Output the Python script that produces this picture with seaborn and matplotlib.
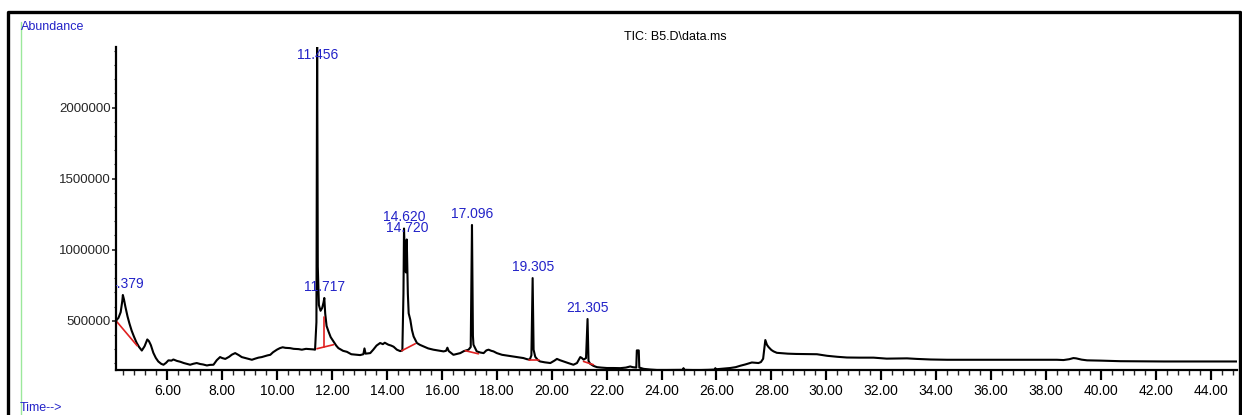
import matplotlib
matplotlib.use("Agg")
import matplotlib.pyplot as plt
import seaborn as sns
import numpy as np
import pandas as pd
from matplotlib.lines import Line2D
from matplotlib.ticker import FixedLocator, MultipleLocator, FuncFormatter

# ---------------- data ----------------
time_min = [
    4.13, 4.22, 4.30, 4.36, 4.38, 4.42, 4.47, 4.55, 4.62, 4.70, 4.78, 4.88, 4.97,
    5.07, 5.17, 5.27, 5.33, 5.40, 5.49, 5.58, 5.67, 5.78, 5.86, 5.95, 6.04, 6.15,
    6.22, 6.35, 6.47, 6.60, 6.70, 6.83, 6.95, 7.07, 7.20, 7.30, 7.44, 7.55, 7.68,
    7.80, 7.92, 8.00, 8.11, 8.25, 8.35, 8.47, 8.60, 8.71, 8.85, 9.00, 9.08, 9.20,
    9.32, 9.44, 9.55, 9.65, 9.75, 9.85, 9.99, 10.10, 10.20, 10.30, 10.47, 10.60,
    10.78, 10.90, 11.05, 11.20, 11.32, 11.38, 11.43, 11.456, 11.48, 11.52, 11.58,
    11.64, 11.69, 11.717, 11.75, 11.80, 11.87, 11.95, 12.05, 12.15, 12.23, 12.40,
    12.54, 12.70, 12.90, 13.02, 13.14, 13.18, 13.22, 13.39, 13.50, 13.62, 13.75,
    13.85, 13.92, 14.05, 14.15, 14.24, 14.36, 14.48, 14.56, 14.60, 14.620, 14.66,
    14.69, 14.720, 14.76, 14.79, 14.85, 14.91, 14.97, 15.09, 15.20, 15.33, 15.50,
    15.69, 15.85, 16.06, 16.15, 16.20, 16.25, 16.42, 16.55, 16.67, 16.80, 16.97,
    17.05, 17.096, 17.13, 17.15, 17.27, 17.40, 17.52, 17.62, 17.70, 17.80, 17.88,
    18.00, 18.19, 18.40, 18.61, 18.80, 18.97, 19.10, 19.20, 19.26, 19.305, 19.34,
    19.40, 19.50, 19.58, 19.75, 19.95, 20.10, 20.19, 20.30, 20.43, 20.60, 20.79,
    20.92, 21.04, 21.10, 21.16, 21.25, 21.305, 21.34, 21.40, 21.52, 21.65, 21.80,
    22.01, 22.25, 22.50, 22.70, 22.86, 22.95, 23.08, 23.10, 23.17, 23.19, 23.35,
    23.60, 23.83, 24.20, 24.60, 24.78, 24.80, 24.82, 25.29, 25.70, 25.94, 25.96,
    25.98, 26.20, 26.50, 26.70, 26.87, 27.05, 27.23, 27.29, 27.40, 27.53, 27.62,
    27.70, 27.78, 27.84, 27.90, 28.00, 28.08, 28.20, 28.33, 28.60, 28.90, 29.30,
    29.66, 29.85, 30.03, 30.40, 30.75, 31.20, 31.72, 32.20, 32.60, 32.94, 33.30,
    33.80, 34.40, 35.00, 35.85, 36.80, 37.70, 38.40, 38.64, 38.85, 39.00, 39.10,
    39.30, 39.50, 40.00, 40.71, 41.50, 42.30, 43.14, 44.00, 44.96,
]
abundance = [
    500000, 520000, 560000, 640000, 681000, 650000, 600000, 530000, 480000, 430000,
    390000, 345000, 315000, 290000, 320000, 368000, 356000, 328000, 274000, 238000,
    213000, 196000, 190000, 203000, 221000, 219000, 227000, 217000, 211000, 202000,
    197000, 190000, 197000, 202000, 195000, 192000, 185000, 189000, 190000, 222000,
    244000, 237000, 231000, 246000, 261000, 272000, 258000, 244000, 237000, 229000,
    225000, 233000, 240000, 244000, 250000, 256000, 260000, 278000, 296000, 307000,
    313000, 309000, 307000, 302000, 300000, 296000, 302000, 300000, 298000, 296000,
    490000, 2500000, 880000, 610000, 570000, 590000, 630000, 660000, 550000, 463000,
    424000, 384000, 354000, 325000, 307000, 288000, 281000, 264000, 260000, 258000,
    264000, 305000, 268000, 272000, 296000, 325000, 343000, 335000, 345000, 331000,
    325000, 317000, 296000, 286000, 291000, 690000, 1149000, 890000, 840000, 1072000,
    690000, 552000, 506000, 434000, 389000, 343000, 330000, 319000, 305000, 296000,
    291000, 284000, 288000, 310000, 286000, 260000, 266000, 272000, 286000, 296000,
    315000, 1174000, 394000, 331000, 284000, 276000, 272000, 291000, 296000, 288000,
    284000, 272000, 260000, 254000, 248000, 242000, 237000, 229000, 226000, 256000,
    800000, 296000, 246000, 222000, 213000, 207000, 202000, 219000, 231000, 222000,
    213000, 202000, 190000, 202000, 244000, 237000, 226000, 237000, 512000, 217000,
    197000, 182000, 173000, 170000, 167000, 167000, 166000, 170000, 178000, 173000,
    170000, 291000, 291000, 170000, 161000, 156000, 153000, 153000, 154000, 154000,
    166000, 154000, 152000, 154000, 156000, 166000, 158000, 162000, 167000, 173000,
    183000, 192000, 202000, 206000, 204000, 202000, 209000, 232000, 364000, 330000,
    314000, 294000, 284000, 274000, 272000, 268000, 266000, 265000, 264000, 258000,
    253000, 246000, 241000, 240000, 240000, 233000, 234000, 235000, 231000, 227000,
    225000, 225000, 225000, 225000, 225000, 225000, 223000, 229000, 237000, 235000,
    226000, 221000, 219000, 215000, 214000, 213000, 213000, 213000, 213000,
]

# integrated peaks (label = retention time)
peak_times = [4.379, 11.456, 11.717, 14.620, 14.720, 17.096, 19.305, 21.305]
peak_labels = ["4.379", "11.456", "11.717", "14.620", "14.720", "17.096", "19.305", "21.305"]
peak_heights = [681000, 2500000, 660000, 1149000, 1072000, 1174000, 800000, 512000]

# integration baselines (red)
base_t0 = [4.13, 11.45, 14.54, 16.85, 19.16, 21.16]
base_v0 = [500000, 303000, 289000, 289000, 221000, 213000]
base_t1 = [4.90, 12.05, 15.03, 17.33, 19.52, 21.52]
base_v1 = [324000, 331000, 338000, 267000, 221000, 190000]
drop_t = [11.69]
drop_v0 = [314000]
drop_v1 = [528000]

x_ticks = [6, 8, 10, 12, 14, 16, 18, 20, 22, 24, 26, 28, 30, 32, 34, 36, 38, 40, 42, 44]
y_ticks = [500000, 1000000, 1500000, 2000000]

# ---------------- figure ----------------
sns.set_style("white")
FONT = ["Liberation Sans Narrow", "Liberation Sans", "DejaVu Sans"]
plt.rcParams["font.family"] = FONT

W, H = 1242, 415
fig = plt.figure(figsize=(W / 100, H / 100), dpi=100)
ax = fig.add_axes([116 / W, (H - 370) / H, (1237 - 116) / W, (370 - 47) / H])

df = pd.DataFrame({"t": time_min, "a": abundance})
sns.lineplot(data=df, x="t", y="a", ax=ax, color="black", lw=1.5,
             estimator=None, sort=False)

for t0, v0, t1, v1 in zip(base_t0, base_v0, base_t1, base_v1):
    sns.lineplot(x=[t0, t1], y=[v0, v1], ax=ax, color="#e02020", lw=1.2,
                 estimator=None, sort=False)
for t, v0, v1 in zip(drop_t, drop_v0, drop_v1):
    sns.lineplot(x=[t, t + 1e-6], y=[v0, v1], ax=ax, color="#e02020", lw=1.2,
                 estimator=None, sort=False)

ax.set_xlim(4.13, 44.96)
ax.set_ylim(153000, 2427000)

label_blue = "#2323c8"
top_cap = 2290000
for t, lab, h in zip(peak_times, peak_labels, peak_heights):
    dx = 3 if t < 5 else 0  # first label sits against the axis edge (clipped)
    ax.annotate(lab, xy=(t, min(h, top_cap)), xytext=(dx, 3), textcoords="offset points",
                ha="center", va="bottom", color=label_blue, fontsize=10,
                clip_on=True)

ax.set_xlabel("")
ax.set_ylabel("")
for s in ["top", "right"]:
    ax.spines[s].set_visible(False)
for s in ["left", "bottom"]:
    ax.spines[s].set_linewidth(1.6)
    ax.spines[s].set_color("black")

ax.xaxis.set_major_locator(FixedLocator(x_ticks))
ax.xaxis.set_major_formatter(FuncFormatter(lambda v, p: f"{v:.2f}"))
ax.xaxis.set_minor_locator(MultipleLocator(0.4))
ax.yaxis.set_major_locator(FixedLocator(y_ticks))
ax.yaxis.set_major_formatter(FuncFormatter(lambda v, p: f"{int(v)}"))
ax.yaxis.set_minor_locator(MultipleLocator(100000))

ax.tick_params(axis="x", which="major", direction="out", length=7, width=1.6,
               pad=3, labelsize=10, colors="black", bottom=True)
ax.tick_params(axis="x", which="minor", direction="out", length=3.5, width=1.0,
               bottom=True)
ax.tick_params(axis="y", which="major", direction="out", length=3, width=1.2,
               pad=1, labelsize=9.5, left=True)
ax.tick_params(axis="y", which="minor", direction="out", length=1.5, width=0.8,
               left=True)

# chart furniture
fig.add_artist(Line2D([8 / W, 8 / W, 1240 / W, 1240 / W],
                      [0, 1 - 12 / H, 1 - 12 / H, 0],
                      transform=fig.transFigure, color="black", lw=2.4))
fig.add_artist(Line2D([21 / W, 21 / W], [0, 1 - 22 / H],
                      transform=fig.transFigure, color="#9be89b", lw=1.0))
fig.text(21 / W, 1 - 27 / H, "Abundance", color=label_blue, fontsize=9,
         ha="left", va="center")
fig.text(20 / W, 1 - 408 / H, "Time-->", color=label_blue, fontsize=9,
         ha="left", va="center")
fig.text(624 / W, 1 - 37 / H, "TIC: B5.D\\data.ms", color="black", fontsize=9,
         ha="left", va="center")

fig.savefig("out.png", dpi=100)
